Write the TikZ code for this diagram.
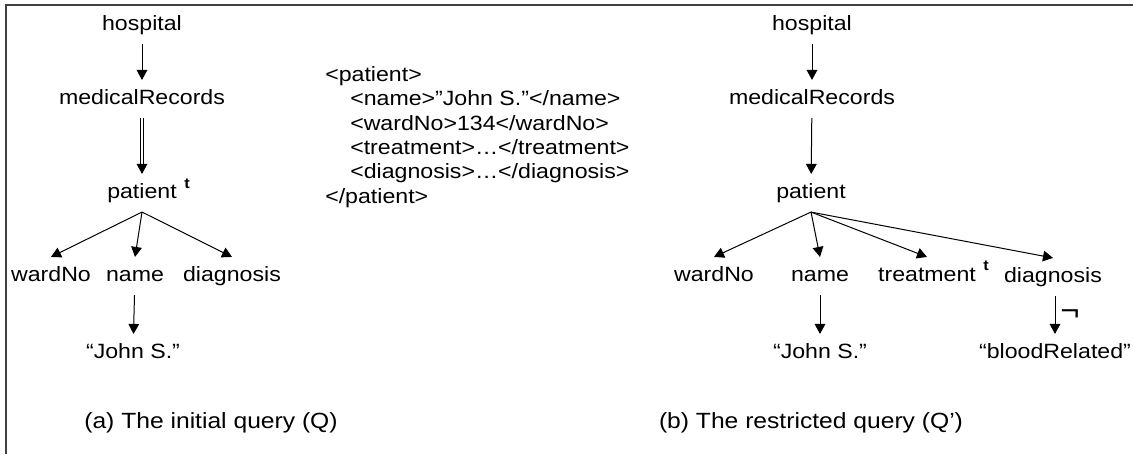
\documentclass[tikz,border=0pt]{standalone}
\usepackage{fontspec}
\setmainfont{Liberation Sans}[FakeStretch=1.12]
\usetikzlibrary{arrows.meta}

\begin{document}
\begin{tikzpicture}[x=0.75pt, y=-0.75pt,
  lbl/.style={font=\fontsize{15.5}{18}\selectfont, inner xsep=1pt, inner ysep=7pt, text height=11pt, text depth=3.2pt},
  tmark/.style={font=\fontsize{11}{13}\bfseries\selectfont, inner sep=0pt},
  arr/.style={-{Triangle[length=7.5pt, width=8pt]}, line width=0.75pt},
  dbl/.style={double, double distance=1.8pt, line width=0.7pt},
  xml/.style={font=\fontsize{15.5}{18.3}\selectfont, align=left, inner sep=0pt, anchor=north west},
  captext/.style={font=\fontsize{16.5}{19}\selectfont, inner sep=0pt},
  frame/.style={draw=black!75, line width=1.2pt}
]
  \useasboundingbox (0,0) rectangle (1133,454);
  \draw[frame] (6,454) -- (6,5) -- (1133,5);

  % (a) initial query
  \node[lbl] (hosp1) at (142,25) {hospital};
  \node[lbl] (mr1) at (142,99) {medicalRecords};
  \node[lbl] (pat1) at (142,193) {patient};
  \node[tmark] (t1) at (187,184) {t};
  \node[lbl] (ward1) at (51,276) {wardNo};
  \node[lbl] (name1) at (135,276) {name};
  \node[lbl] (diag1) at (232,276) {diagnosis};
  \node[lbl] (john1) at (133,353) {“John S.”};
  \coordinate (dh1) at (142,164);

  \draw[arr] (hosp1) -- (mr1);
  \draw[dbl] (mr1) -- (dh1);
  \draw[arr] (dh1) -- (pat1);
  \draw[arr] (pat1.south) -- (ward1.north);
  \draw[arr] (pat1.south) -- (name1.north);
  \draw[arr] (pat1.south) -- (diag1.north);
  \draw[arr] (name1) -- (john1);

  % the document
  \node[xml] (doc) at (325,66) {<patient>\\
    \hspace*{18.75pt}<name>”John S.”</name>\\
    \hspace*{18.75pt}<wardNo>134</wardNo>\\
    \hspace*{18.75pt}<treatment>…</treatment>\\
    \hspace*{18.75pt}<diagnosis>…</diagnosis>\\
    </patient>};

  % (b) restricted query
  \node[lbl] (hosp2) at (812,25) {hospital};
  \node[lbl] (mr2) at (812,99) {medicalRecords};
  \node[lbl] (pat2) at (811,193) {patient};
  \node[lbl] (ward2) at (714,276) {wardNo};
  \node[lbl] (name2) at (820,276) {name};
  \node[lbl] (treat2) at (927,276) {treatment};
  \node[tmark] (t2) at (986,266) {t};
  \node[lbl] (diag2) at (1053,277) {diagnosis};
  \node[lbl] (john2) at (820,353) {“John S.”};
  \node[lbl] (blood2) at (1055,353) {“bloodRelated”};
  \node[font=\fontsize{22}{24}\selectfont, inner sep=0pt] (neg2) at (1070,315) {¬};

  \draw[arr] (hosp2) -- (mr2);
  \draw[arr] (mr2) -- (pat2);
  \draw[arr] (pat2.south) -- (ward2.north);
  \draw[arr] (pat2.south) -- (name2.north);
  \draw[arr] (pat2.south) -- (treat2.north);
  \draw[arr] (pat2.south) -- (diag2.north);
  \draw[arr] (name2) -- (john2);
  \draw[arr] (diag2.south -| blood2) -- (blood2);

  % captions
  \node[captext] (capa) at (211,423) {(a) The initial query (Q)};
  \node[captext] (capb) at (811,423) {(b) The restricted query (Q’)};
\end{tikzpicture}
\end{document}
